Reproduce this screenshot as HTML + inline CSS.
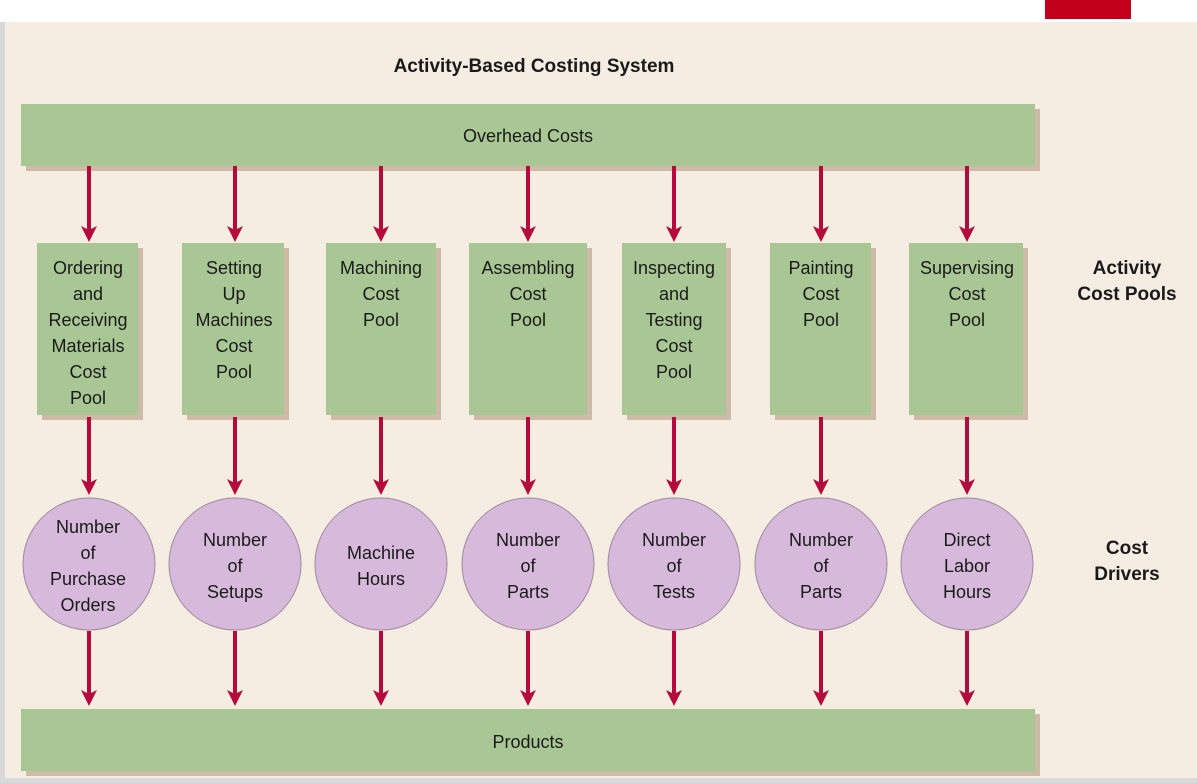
<!DOCTYPE html>
<html><head><meta charset="utf-8"><style>
body{margin:0;width:1197px;height:783px;overflow:hidden;background:#fff}
svg{display:block}
text{font-family:"Liberation Sans",sans-serif;fill:#1a1a1a}
</style></head><body>
<svg width="1197" height="783" viewBox="0 0 1197 783" xmlns="http://www.w3.org/2000/svg">
<defs>
<g id="ar"><path d="M-8,-16 L0,-12 L8,-16 L0,0 Z" fill="#b50a3c"/></g>
</defs>
<rect x="0" y="0" width="1197" height="783" fill="#fff"/>
<rect x="0" y="22" width="1197" height="761" fill="#d9d9d9"/>
<rect x="5" y="22" width="1192" height="756" fill="#f5ece2"/>
<rect x="1045" y="0" width="86" height="19" fill="#c3001b"/>
<text x="534" y="72" font-size="19" font-weight="bold" text-anchor="middle">Activity-Based Costing System</text>
<rect x="26" y="109" width="1014" height="62" fill="#cdbba8"/>
<rect x="21" y="104" width="1014" height="62" fill="#a9c794"/>
<text x="528" y="142" font-size="18" text-anchor="middle">Overhead Costs</text>
<rect x="26" y="714" width="1014" height="62" fill="#cdbba8"/>
<rect x="21" y="709" width="1014" height="62" fill="#a9c794"/>
<text x="528" y="748" font-size="18" text-anchor="middle">Products</text>
<g fill="#cdbba8">
<rect x="42" y="248" width="101" height="172"/>
<rect x="187" y="248" width="102" height="172"/>
<rect x="331" y="248" width="110" height="172"/>
<rect x="474" y="248" width="118" height="172"/>
<rect x="627" y="248" width="104" height="172"/>
<rect x="775" y="248" width="101" height="172"/>
<rect x="914" y="248" width="114" height="172"/>
</g>
<g fill="#a9c794">
<rect x="37" y="243" width="101" height="172"/>
<rect x="182" y="243" width="102" height="172"/>
<rect x="326" y="243" width="110" height="172"/>
<rect x="469" y="243" width="118" height="172"/>
<rect x="622" y="243" width="104" height="172"/>
<rect x="770" y="243" width="101" height="172"/>
<rect x="909" y="243" width="114" height="172"/>
</g>
<g font-size="18" text-anchor="middle">
<text x="88" y="274">Ordering<tspan x="88" dy="26">and</tspan><tspan x="88" dy="26">Receiving</tspan><tspan x="88" dy="26">Materials</tspan><tspan x="88" dy="26">Cost</tspan><tspan x="88" dy="26">Pool</tspan></text>
<text x="234" y="274">Setting<tspan x="234" dy="26">Up</tspan><tspan x="234" dy="26">Machines</tspan><tspan x="234" dy="26">Cost</tspan><tspan x="234" dy="26">Pool</tspan></text>
<text x="381" y="274">Machining<tspan x="381" dy="26">Cost</tspan><tspan x="381" dy="26">Pool</tspan></text>
<text x="528" y="274">Assembling<tspan x="528" dy="26">Cost</tspan><tspan x="528" dy="26">Pool</tspan></text>
<text x="674" y="274">Inspecting<tspan x="674" dy="26">and</tspan><tspan x="674" dy="26">Testing</tspan><tspan x="674" dy="26">Cost</tspan><tspan x="674" dy="26">Pool</tspan></text>
<text x="821" y="274">Painting<tspan x="821" dy="26">Cost</tspan><tspan x="821" dy="26">Pool</tspan></text>
<text x="967" y="274">Supervising<tspan x="967" dy="26">Cost</tspan><tspan x="967" dy="26">Pool</tspan></text>
</g>
<g fill="#d7badb" stroke="#9d8aa0" stroke-width="1">
<circle cx="89" cy="564" r="66"/><circle cx="235" cy="564" r="66"/><circle cx="381" cy="564" r="66"/><circle cx="528" cy="564" r="66"/><circle cx="674" cy="564" r="66"/><circle cx="821" cy="564" r="66"/><circle cx="967" cy="564" r="66"/>
</g>
<g font-size="18" text-anchor="middle">
<text x="88" y="533">Number<tspan x="88" dy="26">of</tspan><tspan x="88" dy="26">Purchase</tspan><tspan x="88" dy="26">Orders</tspan></text>
<text x="235" y="546">Number<tspan x="235" dy="26">of</tspan><tspan x="235" dy="26">Setups</tspan></text>
<text x="381" y="559">Machine<tspan x="381" dy="26">Hours</tspan></text>
<text x="528" y="546">Number<tspan x="528" dy="26">of</tspan><tspan x="528" dy="26">Parts</tspan></text>
<text x="674" y="546">Number<tspan x="674" dy="26">of</tspan><tspan x="674" dy="26">Tests</tspan></text>
<text x="821" y="546">Number<tspan x="821" dy="26">of</tspan><tspan x="821" dy="26">Parts</tspan></text>
<text x="967" y="546">Direct<tspan x="967" dy="26">Labor</tspan><tspan x="967" dy="26">Hours</tspan></text>
</g>
<g font-size="19" font-weight="bold" text-anchor="middle">
<text x="1127" y="274">Activity<tspan x="1127" dy="26">Cost Pools</tspan></text>
<text x="1127" y="554">Cost<tspan x="1127" dy="26">Drivers</tspan></text>
</g>
<g stroke="#b50a3c" stroke-width="4">
<path d="M89 166V232M235 166V232M381 166V232M528 166V232M674 166V232M821 166V232M967 166V232"/>
<path d="M89 417V484M235 417V484M381 417V484M528 417V484M674 417V484M821 417V484M967 417V484"/>
<path d="M89 631V694M235 631V694M381 631V694M528 631V694M674 631V694M821 631V694M967 631V694"/>
</g>
<g>
<use href="#ar" x="89" y="242"/><use href="#ar" x="235" y="242"/><use href="#ar" x="381" y="242"/><use href="#ar" x="528" y="242"/><use href="#ar" x="674" y="242"/><use href="#ar" x="821" y="242"/><use href="#ar" x="967" y="242"/>
<use href="#ar" x="89" y="495"/><use href="#ar" x="235" y="495"/><use href="#ar" x="381" y="495"/><use href="#ar" x="528" y="495"/><use href="#ar" x="674" y="495"/><use href="#ar" x="821" y="495"/><use href="#ar" x="967" y="495"/>
<use href="#ar" x="89" y="706"/><use href="#ar" x="235" y="706"/><use href="#ar" x="381" y="706"/><use href="#ar" x="528" y="706"/><use href="#ar" x="674" y="706"/><use href="#ar" x="821" y="706"/><use href="#ar" x="967" y="706"/>
</g>
</svg>
</body></html>
